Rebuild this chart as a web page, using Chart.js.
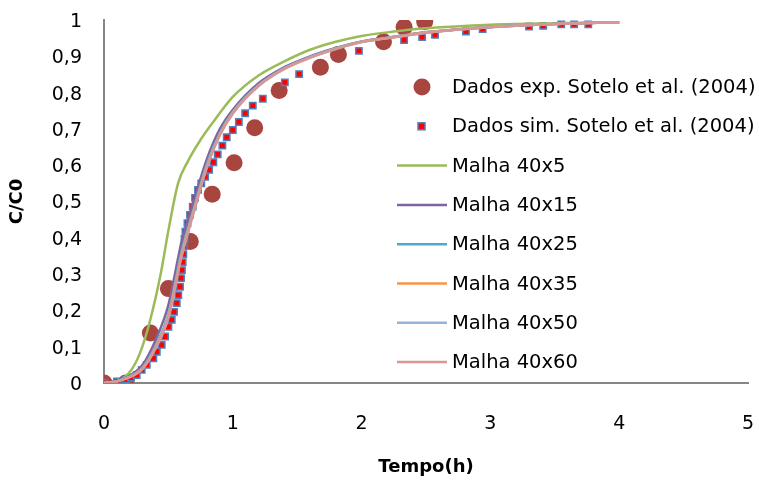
<!DOCTYPE html>
<html>
<head>
<meta charset="utf-8">
<script src="https://cdn.jsdelivr.net/npm/chart.js@4"></script>
<style>
  body { margin: 0; background: #fff; }
  #wrap { width: 759px; height: 480px; }
</style>
</head>
<body>
<div id="wrap"><canvas id="chart" width="759" height="480"></canvas></div>
<script>
// experimental points (Sotelo et al. 2004)
const expTime = [0, 0.17, 0.36, 0.5, 0.67, 0.84, 1.01, 1.17, 1.36, 1.68, 1.82, 2.17, 2.33, 2.49];
const expConc = [0, 0, 0.138, 0.26, 0.39, 0.52, 0.607, 0.703, 0.806, 0.87, 0.905, 0.94, 0.98, 0.995];

// simulated points (Sotelo et al. 2004)
const simTime = [0, 0.1, 0.17, 0.21, 0.254, 0.293, 0.332, 0.383, 0.41, 0.448, 0.474, 0.5, 0.526, 0.544, 0.565,
  0.577, 0.59, 0.598, 0.605, 0.611, 0.616, 0.62, 0.625, 0.632, 0.648, 0.668, 0.689, 0.707, 0.73, 0.755,
  0.785, 0.816, 0.849, 0.883, 0.919, 0.953, 1.0, 1.047, 1.096, 1.155, 1.233, 1.404, 1.515, 1.979,
  2.33, 2.47, 2.57, 2.81, 2.94, 3.3, 3.41, 3.55, 3.65, 3.76];
const simConc = [0, 0.004, 0.01, 0.015, 0.022, 0.036, 0.05, 0.068, 0.086, 0.105, 0.128, 0.155, 0.174, 0.196, 0.22,
  0.242, 0.265, 0.289, 0.311, 0.333, 0.355, 0.377, 0.397, 0.417, 0.44, 0.463, 0.486, 0.51, 0.532, 0.55,
  0.568, 0.587, 0.608, 0.63, 0.654, 0.677, 0.697, 0.719, 0.743, 0.764, 0.783, 0.828, 0.851, 0.915,
  0.945, 0.953, 0.959, 0.968, 0.975, 0.982, 0.984, 0.988, 0.988, 0.988];

// mesh results
const greenTime = [0, 0.1, 0.2, 0.28, 0.36, 0.44, 0.5, 0.575, 0.65, 0.75, 0.85, 1.0, 1.2, 1.4, 1.6, 1.8, 2.0, 2.25, 2.5, 3.0, 3.5, 4.0];
const malha5 = [0, 0.004, 0.03, 0.083, 0.175, 0.3, 0.42, 0.55, 0.61, 0.67, 0.72, 0.788, 0.847, 0.886, 0.918, 0.94, 0.956, 0.968, 0.977, 0.987, 0.991, 0.994];

const lineTime = [0, 0.1, 0.2, 0.3, 0.4, 0.5, 0.6, 0.7, 0.8, 0.9, 1.0, 1.2, 1.4, 1.6, 1.8, 2.0, 2.25, 2.5, 3.0, 3.5, 4.0];
const malha15 = [0, 0.006, 0.02, 0.05, 0.118, 0.215, 0.385, 0.505, 0.618, 0.7, 0.753, 0.826, 0.87, 0.9, 0.923, 0.941, 0.954, 0.966, 0.981, 0.989, 0.994];
const malha25 = [0, 0.005, 0.018, 0.043, 0.103, 0.19, 0.36, 0.485, 0.605, 0.69, 0.747, 0.821, 0.867, 0.898, 0.922, 0.94, 0.953, 0.966, 0.981, 0.989, 0.994];
const malha35 = [0, 0.005, 0.017, 0.041, 0.099, 0.185, 0.352, 0.48, 0.6, 0.686, 0.745, 0.82, 0.866, 0.897, 0.921, 0.94, 0.953, 0.966, 0.981, 0.989, 0.994];
const malha50 = [0, 0.005, 0.017, 0.04, 0.097, 0.182, 0.348, 0.477, 0.598, 0.685, 0.744, 0.819, 0.866, 0.897, 0.921, 0.939, 0.953, 0.965, 0.981, 0.989, 0.994];
const malha60 = [0, 0.005, 0.016, 0.039, 0.095, 0.18, 0.345, 0.474, 0.595, 0.683, 0.742, 0.818, 0.865, 0.896, 0.92, 0.939, 0.952, 0.965, 0.98, 0.989, 0.994];

const xTicks = [0, 1, 2, 3, 4, 5];

const FONT = "'DejaVu Sans', sans-serif";

function pts(xs, ys) {
  return xs.map((x, i) => ({ x: x, y: ys[i] }));
}

function lineSet(label, xs, ys, color, order) {
  return {
    label: label,
    data: pts(xs, ys),
    borderColor: color,
    backgroundColor: color,
    borderWidth: 2.5,
    pointRadius: 0,
    showLine: true,
    cubicInterpolationMode: "monotone",
    order: order
  };
}

let datasets = [
  {
    label: "Dados exp. Sotelo et al. (2004)",
    data: pts(expTime, expConc),
    pointStyle: "circle",
    pointRadius: 8.5,
    backgroundColor: "#A8453F",
    borderColor: "#A8453F",
    borderWidth: 0,
    showLine: false,
    order: 8
  },
  {
    label: "Dados sim. Sotelo et al. (2004)",
    data: pts(simTime, simConc),
    pointStyle: "rect",
    pointRadius: 4.5,
    backgroundColor: "#FF0000",
    borderColor: "#4F81BD",
    borderWidth: 1.5,
    showLine: false,
    order: 7
  },
  lineSet("Malha 40x5", greenTime, malha5, "#9BBB59", 6),
  lineSet("Malha 40x15", lineTime, malha15, "#8064A2", 5),
  lineSet("Malha 40x25", lineTime, malha25, "#4BACC6", 4),
  lineSet("Malha 40x35", lineTime, malha35, "#F79646", 3),
  lineSet("Malha 40x50", lineTime, malha50, "#95B3D7", 2),
  lineSet("Malha 40x60", lineTime, malha60, "#D99694", 1)
];

/* legend drawn inside the plot, like the Excel one */
const sideLegend = {
  id: "sideLegend",
  afterDraw(chart) {
    let ctx = chart.ctx;
    let y0 = 87, step = 39.3;
    ctx.save();
    ctx.font = "19.5px " + FONT;
    ctx.textBaseline = "middle";
    chart.data.datasets.forEach((ds, i) => {
      let y = y0 + i * step;
      if (i === 0) {
        ctx.beginPath();
        ctx.arc(422, y, 8.5, 0, Math.PI * 2);
        ctx.fillStyle = ds.backgroundColor;
        ctx.fill();
      } else if (i === 1) {
        ctx.fillStyle = ds.backgroundColor;
        ctx.fillRect(418, y - 3.5, 7, 7);
        ctx.strokeStyle = ds.borderColor;
        ctx.lineWidth = 1.5;
        ctx.strokeRect(418, y - 3.5, 7, 7);
      } else {
        ctx.beginPath();
        ctx.moveTo(397, y);
        ctx.lineTo(447, y);
        ctx.strokeStyle = ds.borderColor;
        ctx.lineWidth = 2.5;
        ctx.stroke();
      }
      ctx.fillStyle = "#000";
      ctx.fillText(ds.label, 452, y + 1);
    });
    ctx.restore();
  }
};

function commaTick(v) {
  let r = Math.round(v * 10) / 10;
  return String(r).replace(".", ",");
}

new Chart(document.getElementById("chart"), {
  type: "scatter",
  data: { datasets: datasets },
  plugins: [sideLegend],
  options: {
    responsive: false,
    animation: false,
    layout: { padding: { top: 20, right: 11, left: 0, bottom: 0 } },
    plugins: {
      legend: { display: false },
      tooltip: { enabled: false }
    },
    scales: {
      x: {
        type: "linear",
        min: 0,
        max: 5,
        afterBuildTicks: axis => { axis.ticks = xTicks.map(v => ({ value: v })); },
        afterFit: axis => {
          axis.height = 97;
          axis.paddingLeft = 0;
          axis.paddingRight = 0;
        },
        grid: { display: false, drawTicks: false },
        border: { display: true, color: "#868686", width: 2 },
        ticks: { color: "#000", font: { family: FONT, size: 19 }, padding: 30, maxRotation: 0 },
        title: {
          display: true,
          text: "Tempo(h)",
          color: "#000",
          font: { family: FONT, size: 18, weight: "bold" },
          padding: { top: 0, bottom: 2 }
        }
      },
      y: {
        type: "linear",
        min: 0,
        max: 1,
        ticks: {
          stepSize: 0.1,
          color: "#000",
          font: { family: FONT, size: 19 },
          padding: 22,
          labelOffset: 2,
          callback: v => commaTick(v)
        },
        afterFit: axis => {
          axis.width = 104;
          axis.paddingTop = 0;
          axis.paddingBottom = 0;
        },
        grid: { display: false, drawTicks: false },
        border: { display: true, color: "#868686", width: 2 },
        title: {
          display: true,
          text: "C/C0",
          color: "#000",
          font: { family: FONT, size: 18, weight: "bold" },
          padding: { top: 7, bottom: 0 }
        }
      }
    }
  }
});
</script>
</body>
</html>
